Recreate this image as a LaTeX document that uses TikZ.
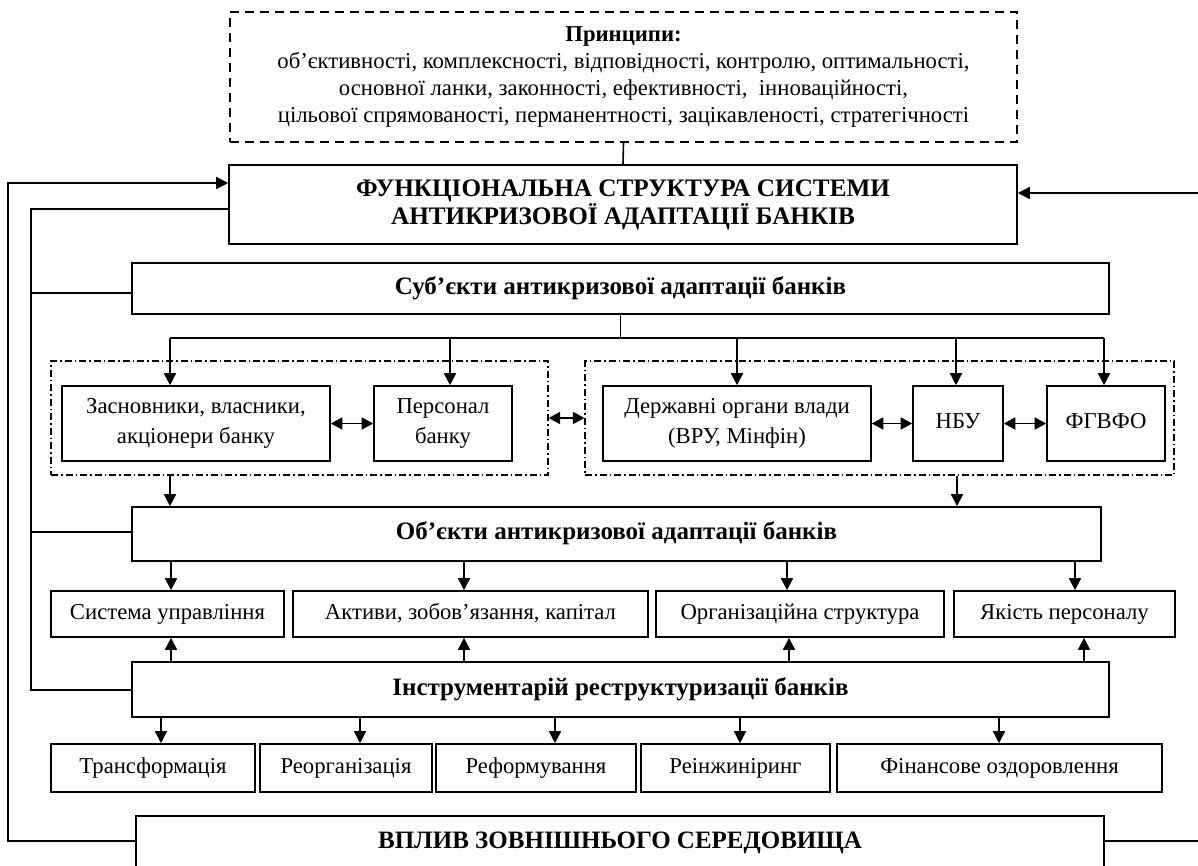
\documentclass[tikz,border=0pt]{standalone}
\usepackage{fontspec}
\setmainfont{Liberation Serif}
\usetikzlibrary{arrows.meta}
\begin{document}
\begin{tikzpicture}[x=1pt,y=-1pt,
  blk/.style={draw, line width=1.6pt, inner sep=0pt, align=center, font=\fontsize{22.7}{30}\selectfont},
  one/.style={text height=15pt, text depth=4.5pt},
  bigblk/.style={blk, font=\fontsize{25.2}{28}\selectfont\bfseries},
  midblk/.style={blk, one, text height=16.5pt, text depth=5pt, font=\fontsize{25}{28}\selectfont\bfseries},
  grp/.style={draw, line width=1.2pt, dash pattern=on 7pt off 3pt on 1.5pt off 3pt, inner sep=0pt},
  ln/.style={line width=1.6pt},
  arr/.style={ln, -{Triangle[length=12pt,width=12pt]}},
  dbl/.style={ln, {Triangle[length=11.5pt,width=12pt]}-{Triangle[length=11.5pt,width=12pt]}}]
\useasboundingbox (0,0) rectangle (1198,865);
\clip (0,0) rectangle (1198,865);

% principles
\node[blk, line width=1.4pt, dash pattern=on 9pt off 6pt, minimum width=787pt, minimum height=130pt,
      font=\fontsize{22.7}{26.7}\selectfont] (princ) at (623.5,77)
  {\textbf{Принципи:}\\
   об’єктивності, комплексності, відповідності, контролю, оптимальності,\\
   основної ланки, законності, ефективності,\ \ інноваційності,\\
   цільової спрямованості, перманентності, зацікавленості, стратегічності};

% main
\node[bigblk, minimum width=788pt, minimum height=79pt] (func) at (623,204.5)
  {ФУНКЦІОНАЛЬНА СТРУКТУРА СИСТЕМИ\\АНТИКРИЗОВОЇ АДАПТАЦІЇ БАНКІВ};
\draw[ln] (princ.south) -- (func.north);

% subjects
\node[midblk, minimum width=977pt, minimum height=51pt] (sub) at (620.5,288.5)
  {Суб’єкти антикризової адаптації банків};

\node[grp, minimum width=497pt, minimum height=114pt] (g1) at (299.5,418) {};
\node[grp, minimum width=589pt, minimum height=114pt] (g2) at (879.5,418) {};

\node[blk, minimum width=268pt, minimum height=75pt] (zasn) at (196,423.5)
  {Засновники, власники,\\акціонери банку};
\node[blk, minimum width=138pt, minimum height=75pt] (pers) at (443,423.5)
  {Персонал\\банку};
\node[blk, minimum width=268pt, minimum height=75pt] (derzh) at (737,423.5)
  {Державні органи влади\\(ВРУ, Мінфін)};
\node[blk, one, minimum width=90pt, minimum height=75pt] (nbu) at (958,423.5) {НБУ};
\node[blk, one, minimum width=118pt, minimum height=75pt] (fg) at (1106,423.5) {ФГВФО};

\coordinate (bA) at (170,338);
\coordinate (bE) at (1104,338);
\draw[ln] (sub.south) -- (sub.south |- bA);
\draw[ln] (bA) -- (bE);
\draw[arr] (bA) -- (bA |- zasn.north);
\draw[arr] (450,338) -- (zasn.north -| 450,0);
\draw[arr] (derzh.north |- bA) -- (derzh.north);
\draw[arr] (956,338) -- (nbu.north -| 956,0);
\draw[arr] (bE) -- (bE |- fg.north);

\draw[dbl] (zasn.east) -- (pers.west);
\draw[dbl] (g1.east) -- (g2.west);
\draw[dbl] (derzh.east) -- (nbu.west);
\draw[dbl] (nbu.east) -- (fg.west);

% objects
\node[midblk, minimum width=969pt, minimum height=54pt] (ob) at (616.5,534)
  {Об’єкти антикризової адаптації банків};
\draw[arr] (g1.south -| bA) -- (ob.north -| bA);
\draw[arr] (g2.south -| 957,0) -- (ob.north -| 957,0);

\node[blk, one, minimum width=233pt, minimum height=46pt] (sys) at (167.5,614) {Система управління};
\node[blk, one, minimum width=355pt, minimum height=46pt] (akt) at (470.5,614) {Активи, зобов’язання, капітал};
\node[blk, one, minimum width=288pt, minimum height=46pt] (org) at (800,614) {Організаційна структура};
\node[blk, one, minimum width=221pt, minimum height=46pt] (yak) at (1064.5,614) {Якість персоналу};

\draw[arr] (ob.south -| 171,0) -- (sys.north -| 171,0);
\draw[arr] (ob.south -| 464,0) -- (akt.north -| 464,0);
\draw[arr] (ob.south -| 787,0) -- (org.north -| 787,0);
\draw[arr] (ob.south -| 1075,0) -- (yak.north -| 1075,0);

% instruments
\node[midblk, minimum width=977pt, minimum height=55pt] (instr) at (620.5,689.5)
  {Інструментарій реструктуризації банків};
\draw[arr] (instr.north -| 171,0) -- (sys.south -| 171,0);
\draw[arr] (instr.north -| 464,0) -- (akt.south -| 464,0);
\draw[arr] (instr.north -| 789,0) -- (org.south -| 789,0);
\draw[arr] (instr.north -| 1084,0) -- (yak.south -| 1084,0);

\node[blk, one, minimum width=204pt, minimum height=48pt] (tr) at (153,768) {Трансформація};
\node[blk, one, minimum width=172pt, minimum height=48pt] (reorg) at (346,768) {Реорганізація};
\node[blk, one, minimum width=200pt, minimum height=48pt] (reform) at (536,768) {Реформування};
\node[blk, one, minimum width=189pt, minimum height=48pt] (reinj) at (735.5,768) {Реінжиніринг};
\node[blk, one, minimum width=325pt, minimum height=48pt] (fin) at (999.5,768) {Фінансове оздоровлення};

\draw[arr] (instr.south -| 161,0) -- (tr.north -| 161,0);
\draw[arr] (instr.south -| 360,0) -- (reorg.north -| 360,0);
\draw[arr] (instr.south -| 555,0) -- (reform.north -| 555,0);
\draw[arr] (instr.south -| 740,0) -- (reinj.north -| 740,0);
\draw[arr] (instr.south -| 999,0) -- (fin.north -| 999,0);

% environment
\node[blk, minimum width=968pt, minimum height=110pt, anchor=north] (vplyv) at (620,815) {};
\node[font=\fontsize{25}{28}\selectfont\bfseries, inner sep=0pt, text height=16.5pt, text depth=0pt] (vtext) at (620,840)
  {ВПЛИВ ЗОВНІШНЬОГО СЕРЕДОВИЩА};

% feedback lines
\coordinate (O1) at (8,841);
\coordinate (O2) at (8,183);
\draw[arr] (vplyv.west |- O1) -- (O1) -- (O2) -- (func.west |- O2);
\coordinate (R1) at (1230,841);
\coordinate (R2) at (1230,193);
\draw[arr] (vplyv.east |- R1) -- (R1) -- (R2) -- (func.east |- R2);

\coordinate (L1) at (31,209);
\coordinate (L2) at (31,690);
\draw[ln] (func.west |- L1) -- (L1) -- (L2) -- (instr.west |- L2);
\draw[ln] (31,293) -- (sub.west |- 0,293);
\draw[ln] (31,532) -- (ob.west |- 0,532);
\end{tikzpicture}
\end{document}
